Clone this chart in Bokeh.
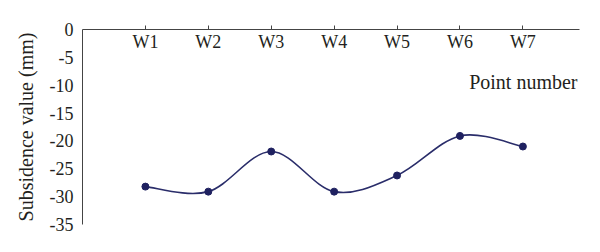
from bokeh.plotting import figure
from bokeh.models import FixedTicker, Range1d, Label
from bokeh.embed import file_html
from bokeh.resources import INLINE

# ---- data ----
points = ["W1", "W2", "W3", "W4", "W5", "W6", "W7"]
subsidence = [-28.2, -29.1, -21.9, -29.1, -26.2, -19.1, -21.0]
y_ticks = [0, -5, -10, -15, -20, -25, -30, -35]
y_tick_labels = ["0", "-5", "-10", "-15", "-20", "-25", "-30", "-35"]

FONT = "Liberation Serif"
TXT = "#231f20"
LINE = "#2a2d6a"

xs = list(range(1, len(points) + 1))

p = figure(width=600, height=252, output_backend="svg", toolbar_location=None,
           x_range=Range1d(0, 7.9), y_range=Range1d(-35, 0),
           x_axis_location="above",
           min_border_left=82, min_border_top=29, min_border_right=21, min_border_bottom=28)
p.outline_line_color = None
p.grid.visible = False
p.background_fill_color = "white"
p.border_fill_color = "white"

# top axis: ticks point up, labels sit below the line
xa = p.xaxis[0]
xa.ticker = FixedTicker(ticks=xs)
xa.major_label_overrides = {x: t for x, t in zip(xs, points)}
xa.major_tick_out = 4
xa.major_tick_in = 0
xa.minor_tick_line_color = None
xa.major_label_standoff = -26
xa.major_label_text_font = FONT
xa.major_label_text_font_size = "18px"
xa.major_label_text_color = TXT
xa.axis_line_color = "#444444"
xa.major_tick_line_color = "#444444"

ya = p.yaxis[0]
ya.ticker = FixedTicker(ticks=y_ticks)
ya.major_label_overrides = {v: t for v, t in zip(y_ticks, y_tick_labels)}
ya.major_tick_out = 0
ya.major_tick_in = 0
ya.minor_tick_line_color = None
ya.axis_line_color = "#444444"
ya.major_label_text_font = FONT
ya.major_label_text_font_size = "18px"
ya.major_label_text_color = TXT
ya.major_label_standoff = 9
ya.axis_label = "Subsidence value (mm)"
ya.axis_label_text_font = FONT
ya.axis_label_text_font_size = "20px"
ya.axis_label_text_font_style = "normal"
ya.axis_label_text_color = TXT
ya.axis_label_standoff = 10

p.add_layout(Label(x=7.9, y=-9.4, x_offset=-2, text="Point number",
                   text_align="right", text_baseline="alphabetic",
                   text_font=FONT, text_font_size="20px", text_color=TXT))

# smooth curve (Catmull-Rom style Bezier segments through the points)
n = len(xs)
x0, y0, x1, y1, cx0, cy0, cx1, cy1 = [], [], [], [], [], [], [], []
for i in range(n - 1):
    ip = max(i - 1, 0)
    inn = min(i + 2, n - 1)
    x0.append(xs[i]); y0.append(subsidence[i])
    x1.append(xs[i + 1]); y1.append(subsidence[i + 1])
    cx0.append(xs[i] + (xs[i + 1] - xs[ip]) / 6)
    cy0.append(subsidence[i] + (subsidence[i + 1] - subsidence[ip]) / 6)
    cx1.append(xs[i + 1] - (xs[inn] - xs[i]) / 6)
    cy1.append(subsidence[i + 1] - (subsidence[inn] - subsidence[i]) / 6)
p.bezier(x0=x0, y0=y0, x1=x1, y1=y1, cx0=cx0, cy0=cy0, cx1=cx1, cy1=cy1,
         line_color=LINE, line_width=1.6)
p.scatter(xs, subsidence, size=7, color="#1f2160")

open("out.html", "w").write(file_html(p, INLINE))
